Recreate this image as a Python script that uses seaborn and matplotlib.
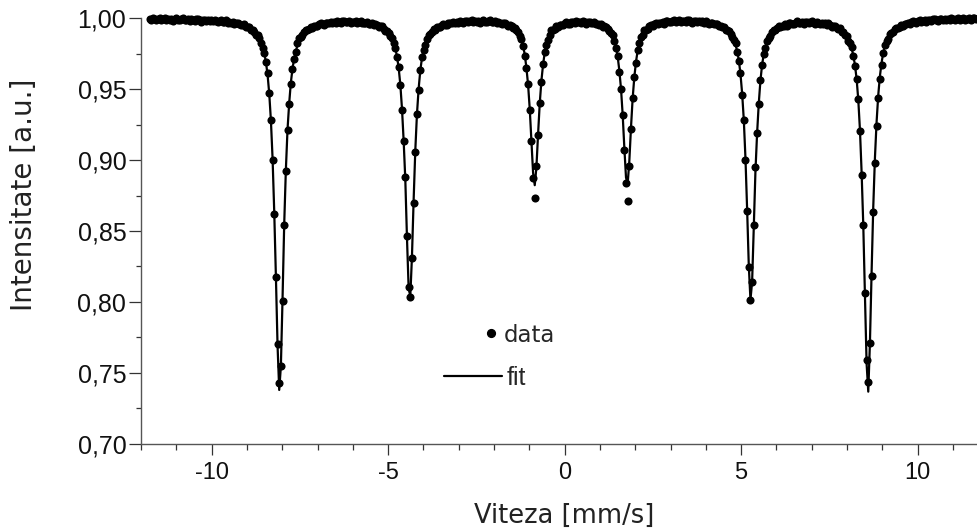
import numpy as np
import pandas as pd
import matplotlib
matplotlib.use("Agg")
import matplotlib.pyplot as plt
import seaborn as sns
from matplotlib.lines import Line2D
from matplotlib.ticker import MultipleLocator, FuncFormatter

# ---------------- data ----------------
# velocity calibration of the 501 spectrometer channels (mm/s)
v_start = -11.751
v_step = 0.047

# measured relative transmission per channel
intensity = [
    .9998, .9989, 1.0002, .9993, .9986, .9997, .9999, .9989, .9993, 1.0002,
    .9987, .9994, .9990, .9997, .9983, .9996, 1.0000, .9990, .9986, .9992,
    1.0001, .9987, .9989, .9996, .9982, .9993, .9989, .9983, .9993, .9996,
    .9985, .9977, .9991, .9987, .9982, .9991, .9983, .9988, .9978, .9991,
    .9981, .9973, .9983, .9985, .9974, .9977, .9985, .9968, .9974, .9968,
    .9975, .9958, .9969, .9970, .9958, .9951, .9954, .9958, .9940, .9937,
    .9938, .9916, .9918, .9904, .9885, .9880, .9864, .9828, .9790, .9757,
    .9690, .9612, .9470, .9280, .9001, .8620, .8178, .7701, .7430, .7550,
    .8006, .8543, .8925, .9215, .9395, .9540, .9640, .9712, .9765, .9828,
    .9858, .9868, .9882, .9901, .9921, .9916, .9927, .9940, .9932, .9947,
    .9949, .9946, .9960, .9966, .9958, .9953, .9969, .9968, .9964, .9975,
    .9970, .9976, .9968, .9981, .9973, .9966, .9978, .9981, .9971, .9975,
    .9984, .9969, .9976, .9971, .9979, .9964, .9977, .9980, .9969, .9965,
    .9969, .9977, .9961, .9962, .9967, .9950, .9958, .9951, .9941, .9946,
    .9943, .9923, .9908, .9911, .9895, .9873, .9862, .9824, .9791, .9725,
    .9657, .9530, .9353, .9137, .8883, .8467, .8107, .8037, .8312, .8700,
    .9059, .9327, .9491, .9634, .9725, .9775, .9814, .9853, .9884, .9887,
    .9904, .9922, .9918, .9936, .9941, .9940, .9956, .9962, .9955, .9951,
    .9968, .9967, .9964, .9975, .9970, .9976, .9968, .9982, .9974, .9968,
    .9980, .9983, .9974, .9978, .9988, .9973, .9980, .9976, .9984, .9970,
    .9983, .9987, .9976, .9973, .9978, .9987, .9972, .9974, .9980, .9965,
    .9974, .9969, .9961, .9970, .9970, .9956, .9944, .9953, .9944, .9932,
    .9933, .9914, .9904, .9873, .9857, .9805, .9734, .9652, .9535, .9354,
    .9134, .8875, .8735, .8960, .9179, .9403, .9549, .9676, .9765, .9813,
    .9850, .9885, .9914, .9914, .9928, .9944, .9937, .9953, .9955, .9952,
    .9966, .9972, .9963, .9958, .9973, .9971, .9967, .9978, .9971, .9976,
    .9967, .9980, .9971, .9963, .9974, .9976, .9965, .9967, .9974, .9957,
    .9961, .9954, .9958, .9939, .9946, .9942, .9923, .9908, .9897, .9883,
    .9837, .9794, .9733, .9622, .9504, .9318, .9070, .8840, .8712, .8960,
    .9219, .9439, .9585, .9688, .9776, .9824, .9867, .9884, .9916, .9920,
    .9924, .9943, .9953, .9948, .9957, .9969, .9958, .9967, .9966, .9976,
    .9963, .9978, .9983, .9974, .9972, .9979, .9988, .9975, .9978, .9985,
    .9972, .9983, .9980, .9974, .9985, .9987, .9976, .9969, .9982, .9978,
    .9973, .9982, .9974, .9978, .9968, .9979, .9969, .9960, .9969, .9970,
    .9957, .9958, .9963, .9944, .9947, .9937, .9939, .9917, .9920, .9912,
    .9888, .9867, .9849, .9824, .9764, .9702, .9612, .9460, .9285, .9001,
    .8641, .8244, .8013, .8142, .8540, .8949, .9189, .9394, .9565, .9670,
    .9750, .9792, .9843, .9861, .9874, .9901, .9916, .9916, .9929, .9944,
    .9936, .9947, .9948, .9959, .9948, .9964, .9970, .9962, .9961, .9968,
    .9978, .9965, .9969, .9976, .9962, .9974, .9971, .9965, .9976, .9978,
    .9967, .9959, .9972, .9968, .9962, .9970, .9962, .9965, .9954, .9964,
    .9952, .9941, .9948, .9946, .9931, .9928, .9930, .9905, .9901, .9883,
    .9875, .9840, .9827, .9795, .9735, .9664, .9571, .9432, .9206, .8895,
    .8542, .8061, .7590, .7433, .7708, .8183, .8636, .8982, .9241, .9436,
    .9570, .9671, .9753, .9812, .9841, .9856, .9888, .9895, .9900, .9922,
    .9934, .9931, .9942, .9956, .9947, .9958, .9958, .9969, .9958, .9973,
    .9980, .9971, .9970, .9978, .9989, .9976, .9980, .9988, .9976, .9988,
    .9986, .9980, .9992, .9996, .9986, .9979, .9994, .9992, .9987, .9998,
    .9991, .9997, .9988, 1.0001, .9993, .9986, .9998, 1.0001, .9991, .9995,
    1.0005, .9990, .9997, .9993, 1.0002, .9988, 1.0001, 1.0005, .9995, .9993,
    .9999,
]

# fitted curve around each of the six absorption lines (first channel, values)
fit1_start = 65
fit1 = [.9875, .9856, .9831, .9800, .9753, .9691, .9600, .9467, .9278, .9010,
        .8635, .8180, .7690, .7379, .7545, .8020, .8545, .8930, .9215, .9400,
        .9545, .9645, .9715, .9768, .9810, .9842, .9866]
fit2_start = 144
fit2 = [.9894, .9877, .9856, .9825, .9787, .9730, .9649, .9531, .9361, .9134,
        .8860, .8450, .8095, .8040, .8320, .8715, .9065, .9322, .9500, .9630,
        .9717, .9777, .9819, .9852, .9874, .9891, .9905]
fit3_start = 219
fit3 = [.9936, .9927, .9915, .9900, .9878, .9849, .9806, .9742, .9649, .9529,
        .9358, .9134, .8910, .8823, .8949, .9182, .9398, .9558, .9672, .9757,
        .9815, .9855, .9884, .9904, .9918, .9929, .9938]
fit4_start = 275
fit4 = [.9934, .9925, .9913, .9896, .9873, .9841, .9795, .9727, .9630, .9501,
        .9318, .9086, .8877, .8833, .8993, .9229, .9435, .9584, .9692, .9770,
        .9825, .9863, .9889, .9908, .9921, .9932, .9940]
fit5_start = 349
fit5 = [.9904, .9890, .9872, .9848, .9814, .9768, .9704, .9606, .9468, .9282,
        .9010, .8650, .8255, .8015, .8140, .8525, .8920, .9188, .9398, .9559,
        .9671, .9746, .9797, .9835, .9862, .9882, .9898]
fit6_start = 420
fit6 = [.9870, .9849, .9823, .9787, .9737, .9669, .9570, .9422, .9210, .8910,
        .8540, .8045, .7565, .7367, .7710, .8205, .8665, .9010, .9265, .9455,
        .9590, .9685, .9755, .9805, .9837, .9861, .9880]

x_ticks = [-10, -5, 0, 5, 10]
y_ticks = [0.70, 0.75, 0.80, 0.85, 0.90, 0.95, 1.00]
x_label = "Viteza [mm/s]"
y_label = "Intensitate [a.u.]"

# ---------------- build frames ----------------
velocity = np.round(v_start + v_step * np.arange(len(intensity)), 4)
data_df = pd.DataFrame({"v": velocity, "I": intensity})

segs = []
for i, (st, vals) in enumerate([(fit1_start, fit1), (fit2_start, fit2), (fit3_start, fit3),
                                (fit4_start, fit4), (fit5_start, fit5), (fit6_start, fit6)]):
    segs.append(pd.DataFrame({"v": velocity[st:st + len(vals)], "I": vals, "line": i}))
fit_df = pd.concat(segs, ignore_index=True)

# ---------------- style ----------------
sns.set_style("ticks")
plt.rcParams["font.family"] = ["DejaVu Sans"]
plt.rcParams["axes.unicode_minus"] = False

W, H = 977, 530
fig = plt.figure(figsize=(W / 100, H / 100), dpi=100)
ax_l, ax_r, ax_t, ax_b = 141, 977, 18.3, 443.7
ax = fig.add_axes([ax_l / W, 1 - ax_b / H, (ax_r - ax_l) / W, (ax_b - ax_t) / H])

sns.lineplot(data=fit_df, x="v", y="I", units="line", estimator=None, sort=False,
             color="black", linewidth=1.6, ax=ax, legend=False)
sns.scatterplot(data=data_df, x="v", y="I", color="black", s=34, linewidth=0,
                ax=ax, legend=False, clip_on=False, zorder=3)

ax.set_xlim(-12, 11.68)
ax.set_ylim(0.70, 1.00)
ax.set_xticks(x_ticks)
ax.xaxis.set_minor_locator(MultipleLocator(1))
ax.set_yticks(y_ticks)
ax.yaxis.set_minor_locator(MultipleLocator(0.025))
ax.yaxis.set_major_formatter(FuncFormatter(lambda v, p: f"{v:.2f}".replace(".", ",")))
ax.xaxis.set_major_formatter(FuncFormatter(lambda v, p: f"{v:g}"))

for s in ["top", "right"]:
    ax.spines[s].set_visible(False)
for s in ["left", "bottom"]:
    ax.spines[s].set_color("#555555")
    ax.spines[s].set_linewidth(1.0)

ax.tick_params(axis="both", which="both", direction="out", color="#333333", width=0.9)
ax.tick_params(axis="y", which="major", length=8.6, pad=2)
ax.tick_params(axis="y", which="minor", length=3.6)
ax.tick_params(axis="x", which="major", length=8.0, pad=5)
ax.tick_params(axis="x", which="minor", length=4.3)
for lab in ax.get_xticklabels():
    lab.set_fontfamily(["Liberation Sans", "DejaVu Sans"])
    lab.set_fontsize(17)
    lab.set_color("#111111")
for lab in ax.get_yticklabels():
    lab.set_fontfamily(["Liberation Sans", "DejaVu Sans"])
    lab.set_fontsize(18)
    lab.set_color("#111111")

ax.set_xlabel(x_label, fontsize=18.5, color="#222222")
ax.set_ylabel(y_label, fontsize=20, color="#222222")
ax.xaxis.set_label_coords((564 - ax_l) / (ax_r - ax_l), (ax_b - 503) / (ax_b - ax_t))
ax.yaxis.set_label_coords((38 - ax_l) / (ax_r - ax_l), (ax_b - 195) / (ax_b - ax_t))

# legends (two separate entries, as in the original)
h_data = Line2D([], [], marker="o", linestyle="", color="black", markersize=5.6)
h_fit = Line2D([], [], color="black", linewidth=1.6)
to_ax = lambda px, py: ((px - ax_l) / (ax_r - ax_l), (ax_b - py) / (ax_b - ax_t))
leg1 = ax.legend([h_data], ["data"], loc="center left", bbox_to_anchor=to_ax(486, 335),
                 frameon=False, handlelength=0.4, handletextpad=0.38, borderpad=0,
                 borderaxespad=0, prop={"family": "DejaVu Sans", "size": 16.5})
ax.add_artist(leg1)
leg2 = ax.legend([h_fit], ["fit"], loc="center left", bbox_to_anchor=to_ax(444, 378),
                 frameon=False, handlelength=2.3, handletextpad=0.2, borderpad=0,
                 borderaxespad=0, prop={"family": ["Liberation Sans", "DejaVu Sans"], "size": 18})

fig.savefig("out.png", dpi=100)
